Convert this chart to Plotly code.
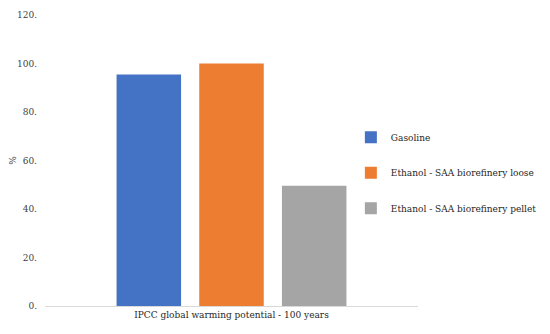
import plotly.graph_objects as go

category = ["IPCC global warming potential - 100 years"]
series_names = ["Gasoline", "Ethanol - SAA biorefinery loose", "Ethanol - SAA biorefinery pellet"]
series_values = [[95.5], [100.0], [49.6]]
colors = ["#4472C4", "#ED7D31", "#A5A5A5"]
tick_vals = [0, 20, 40, 60, 80, 100, 120]
tick_text = ["0.", "20.", "40.", "60.", "80.", "100.", "120."]

FONT = "DejaVu Serif"
FS = 9
fig = go.Figure()
for i, (name, vals, col) in enumerate(zip(series_names, series_values, colors)):
    fig.add_trace(go.Bar(x=category, y=vals, name=name, marker_color=col,
                         marker_line_width=0, legendgroup=f"g{i}"))

fig.update_layout(
    width=542, height=326,
    margin=dict(l=37, r=132, t=7, b=28),
    paper_bgcolor="white", plot_bgcolor="white",
    font=dict(family=FONT, size=FS, color="#404040"),
    barmode="group", bargap=0.335, bargroupgap=0.22,
    showlegend=True,
    legend=dict(xref="paper", x=0.82, xanchor="left",
                yref="paper", y=0.63, yanchor="top",
                font=dict(family=FONT, size=FS, color="#262626"),
                tracegroupgap=16.5, itemwidth=30, bgcolor="rgba(0,0,0,0)"),
)
fig.update_xaxes(showline=True, linecolor="#D9D9D9", linewidth=1, ticks="",
                 showgrid=False, automargin=False,
                 tickfont=dict(family=FONT, size=FS, color="#262626"))
fig.update_yaxes(range=[0, 120], tickvals=tick_vals, ticktext=tick_text,
                 showgrid=False, zeroline=False, showline=False, ticks="",
                 automargin=False, ticklabelstandoff=7,
                 title=dict(text="%", font=dict(family=FONT, size=FS, color="#404040")),
                 tickfont=dict(family=FONT, size=FS, color="#404040"))
fig.write_html("out.html")
